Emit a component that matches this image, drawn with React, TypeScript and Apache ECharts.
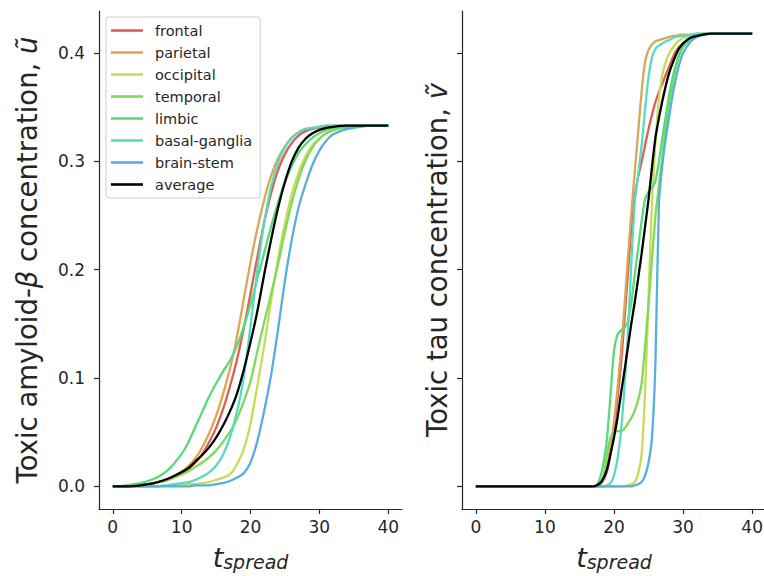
import React, { useEffect, useRef } from "react";
import * as echarts from "echarts";

const regions = ["frontal", "parietal", "occipital", "temporal", "limbic", "basal-ganglia", "brain-stem", "average"];
const colors = ["#db5f57", "#dba757", "#c7db57", "#7fdb57", "#57db77", "#57dbbe", "#57afdb", "#000000"];

const xTicks = [0, 10, 20, 30, 40];
const yTicks = [0, 0.1, 0.2, 0.3, 0.4];

// Left panel: amyloid-beta
const tLeft = [0, 2, 4, 6, 8, 10, 11, 12, 13, 14, 15, 16, 17, 18, 19, 20, 21, 22, 23, 24, 25, 26, 27, 28, 29, 30, 31, 32, 34, 36, 38, 40];
const uFrontal = [0, 0, 0.001, 0.003, 0.006, 0.012, 0.016, 0.022, 0.030, 0.041, 0.054, 0.071, 0.092, 0.116, 0.145, 0.178, 0.212, 0.244, 0.271, 0.292, 0.307, 0.317, 0.324, 0.328, 0.330, 0.331, 0.332, 0.332, 0.333, 0.333, 0.333, 0.333];
const uParietal = [0, 0, 0.001, 0.003, 0.007, 0.014, 0.019, 0.026, 0.036, 0.049, 0.065, 0.085, 0.108, 0.137, 0.172, 0.207, 0.238, 0.265, 0.287, 0.303, 0.314, 0.322, 0.327, 0.330, 0.331, 0.332, 0.333, 0.333, 0.333, 0.333, 0.333, 0.333];
const uOccipital = [0, 0, 0, 0, 0.001, 0.001, 0.002, 0.002, 0.003, 0.004, 0.006, 0.008, 0.011, 0.020, 0.034, 0.058, 0.093, 0.130, 0.172, 0.210, 0.243, 0.270, 0.290, 0.305, 0.315, 0.321, 0.326, 0.329, 0.332, 0.333, 0.333, 0.333];
const uTemporal = [0, 0, 0.001, 0.003, 0.006, 0.011, 0.014, 0.018, 0.022, 0.027, 0.033, 0.041, 0.050, 0.062, 0.078, 0.097, 0.125, 0.152, 0.178, 0.205, 0.235, 0.262, 0.284, 0.301, 0.313, 0.321, 0.326, 0.329, 0.332, 0.333, 0.333, 0.333];
const uLimbic = [0, 0.001, 0.003, 0.007, 0.015, 0.030, 0.041, 0.055, 0.069, 0.083, 0.095, 0.106, 0.116, 0.129, 0.147, 0.168, 0.192, 0.216, 0.240, 0.262, 0.281, 0.296, 0.308, 0.316, 0.322, 0.326, 0.329, 0.331, 0.332, 0.333, 0.333, 0.333];
const uBasal = [0, 0, 0, 0, 0.001, 0.003, 0.004, 0.006, 0.009, 0.013, 0.019, 0.029, 0.045, 0.068, 0.100, 0.148, 0.200, 0.244, 0.277, 0.299, 0.313, 0.322, 0.327, 0.330, 0.331, 0.332, 0.333, 0.333, 0.333, 0.333, 0.333, 0.333];
const uBrainstem = [0, 0, 0, 0, 0, 0, 0, 0.001, 0.001, 0.001, 0.002, 0.003, 0.005, 0.008, 0.012, 0.022, 0.042, 0.070, 0.103, 0.145, 0.190, 0.228, 0.258, 0.279, 0.297, 0.310, 0.319, 0.325, 0.330, 0.332, 0.333, 0.333];
const uAverage = [0, 0, 0.001, 0.003, 0.007, 0.013, 0.017, 0.023, 0.029, 0.036, 0.045, 0.056, 0.069, 0.085, 0.107, 0.133, 0.162, 0.196, 0.228, 0.257, 0.281, 0.300, 0.313, 0.321, 0.326, 0.329, 0.331, 0.332, 0.333, 0.333, 0.333, 0.333];

// Right panel: tau
const tRight = [0, 5, 10, 15, 16, 17, 17.5, 18, 18.5, 19, 19.5, 20, 20.5, 21, 21.5, 22, 22.5, 23, 23.5, 24, 24.5, 25, 25.5, 26, 26.5, 27, 27.5, 28, 28.5, 29, 29.5, 30, 31, 32, 34, 36, 40];
const vFrontal = [0, 0, 0, 0, 0, 0, 0, 0.002, 0.006, 0.014, 0.030, 0.052, 0.080, 0.112, 0.152, 0.196, 0.236, 0.268, 0.286, 0.300, 0.315, 0.330, 0.343, 0.355, 0.364, 0.372, 0.380, 0.388, 0.396, 0.402, 0.406, 0.409, 0.414, 0.416, 0.418, 0.418, 0.418];
const vParietal = [0, 0, 0, 0, 0, 0, 0, 0.002, 0.008, 0.020, 0.038, 0.060, 0.090, 0.125, 0.165, 0.210, 0.252, 0.290, 0.327, 0.365, 0.392, 0.403, 0.408, 0.411, 0.412, 0.413, 0.414, 0.415, 0.416, 0.416, 0.417, 0.417, 0.417, 0.418, 0.418, 0.418, 0.418];
const vOccipital = [0, 0, 0, 0, 0, 0, 0, 0, 0, 0, 0, 0, 0, 0, 0, 0.001, 0.002, 0.004, 0.012, 0.030, 0.088, 0.175, 0.262, 0.318, 0.358, 0.380, 0.392, 0.400, 0.405, 0.409, 0.412, 0.414, 0.416, 0.417, 0.418, 0.418, 0.418];
const vTemporal = [0, 0, 0, 0, 0, 0, 0, 0.002, 0.010, 0.030, 0.045, 0.050, 0.051, 0.051, 0.053, 0.058, 0.063, 0.070, 0.080, 0.095, 0.130, 0.168, 0.210, 0.250, 0.278, 0.305, 0.333, 0.355, 0.373, 0.388, 0.399, 0.406, 0.413, 0.416, 0.418, 0.418, 0.418];
const vLimbic = [0, 0, 0, 0, 0, 0, 0.001, 0.008, 0.022, 0.045, 0.085, 0.125, 0.140, 0.144, 0.146, 0.152, 0.170, 0.195, 0.220, 0.245, 0.265, 0.272, 0.276, 0.282, 0.300, 0.322, 0.342, 0.362, 0.378, 0.390, 0.400, 0.406, 0.413, 0.416, 0.418, 0.418, 0.418];
const vBasal = [0, 0, 0, 0, 0, 0, 0, 0, 0, 0.001, 0.003, 0.010, 0.025, 0.050, 0.090, 0.140, 0.205, 0.262, 0.288, 0.315, 0.348, 0.378, 0.396, 0.404, 0.407, 0.409, 0.411, 0.412, 0.414, 0.415, 0.416, 0.416, 0.417, 0.418, 0.418, 0.418, 0.418];
const vBrainstem = [0, 0, 0, 0, 0, 0, 0, 0, 0, 0, 0, 0, 0, 0, 0, 0, 0, 0.001, 0.002, 0.004, 0.010, 0.022, 0.045, 0.115, 0.262, 0.297, 0.322, 0.342, 0.362, 0.378, 0.391, 0.400, 0.410, 0.415, 0.418, 0.418, 0.418];
const vAverage = [0, 0, 0, 0, 0, 0, 0.001, 0.003, 0.008, 0.016, 0.030, 0.045, 0.063, 0.085, 0.106, 0.128, 0.150, 0.170, 0.192, 0.215, 0.240, 0.265, 0.295, 0.322, 0.340, 0.356, 0.370, 0.382, 0.391, 0.399, 0.405, 0.409, 0.414, 0.416, 0.418, 0.418, 0.418];

const uSeries = [uFrontal, uParietal, uOccipital, uTemporal, uLimbic, uBasal, uBrainstem, uAverage];
const vSeries = [vFrontal, vParietal, vOccipital, vTemporal, vLimbic, vBasal, vBrainstem, vAverage];

const FONT = "DejaVu Sans";
const INK = "#262626";
const LINE_ICON = "path://M0,0 L32,0 L32,2.6 L0,2.6 Z";

function zip(t: number[], v: number[]) {
  return t.map((x, i) => [x, v[i]]);
}

function xAxisFor(grid: number) {
  return {
    type: "value",
    gridIndex: grid,
    min: -2,
    max: 42,
    name: "{t|t}{s|spread}",
    nameLocation: "middle",
    nameGap: 35,
    nameTextStyle: {
      rich: {
        t: { fontSize: 27, fontStyle: "italic", fontFamily: FONT, color: INK },
        s: { fontSize: 19, fontStyle: "italic", fontFamily: FONT, color: INK, padding: [8, 0, 0, 0] },
      },
    },
    axisLine: { onZero: false, lineStyle: { color: INK, width: 1.2 } },
    axisTick: { customValues: xTicks, length: 5, lineStyle: { color: INK, width: 1.2 } },
    axisLabel: { customValues: xTicks, fontSize: 17, color: INK, fontFamily: FONT, margin: 9 },
    splitLine: { show: false },
  };
}

function yAxisFor(grid: number, name: string, rich: any, gap: number, showLabels: boolean) {
  return {
    type: "value",
    gridIndex: grid,
    min: -0.0209,
    max: 0.4389,
    name,
    nameLocation: "middle",
    nameGap: gap,
    nameTextStyle: { fontSize: 27.5, fontFamily: FONT, color: INK, rich },
    axisLine: { show: true, onZero: false, lineStyle: { color: INK, width: 1.2 } },
    axisTick: { show: true, customValues: yTicks, length: 5, lineStyle: { color: INK, width: 1.2 } },
    axisLabel: {
      show: showLabels,
      customValues: yTicks,
      fontSize: 17,
      color: INK,
      fontFamily: FONT,
      margin: 14,
      formatter: (v: number) => v.toFixed(1),
    },
    splitLine: { show: false },
  };
}

export default function App() {
  const ref = useRef<HTMLDivElement>(null);
  useEffect(() => {
    const chart = echarts.init(ref.current!, null, { renderer: "svg" });
    const richI = { i: { fontSize: 27.5, fontStyle: "italic", fontFamily: FONT, color: INK } };
    const series: any[] = [];
    regions.forEach((name, k) => {
      series.push({
        type: "line",
        name,
        xAxisIndex: 0,
        yAxisIndex: 0,
        data: zip(tLeft, uSeries[k]),
        showSymbol: false,
        symbol: "none",
        smooth: 0.25,
        lineStyle: { color: colors[k], width: 2.3 },
        itemStyle: { color: colors[k] },
        z: 2 + k,
      });
      series.push({
        type: "line",
        name,
        xAxisIndex: 1,
        yAxisIndex: 1,
        data: zip(tRight, vSeries[k]),
        showSymbol: false,
        symbol: "none",
        smooth: 0.2,
        lineStyle: { color: colors[k], width: 2.3 },
        itemStyle: { color: colors[k] },
        z: 2 + k,
      });
    });
    chart.setOption({
      animation: false,
      textStyle: { fontFamily: FONT },
      grid: [
        { left: 99, top: 11, width: 303, height: 498, outerBoundsMode: "none", containLabel: false },
        { left: 462, top: 11, width: 304, height: 498, outerBoundsMode: "none", containLabel: false },
      ],
      xAxis: [xAxisFor(0), xAxisFor(1)],
      yAxis: [
        yAxisFor(0, "Toxic amyloid-{i|β} concentration, {i|ũ}", richI, 58, true),
        yAxisFor(1, "Toxic tau concentration, {i|ṽ}", richI, 11, false),
      ],
      legend: {
        data: regions.map((name) => ({ name, icon: LINE_ICON })),
        orient: "vertical",
        left: 106,
        top: 17,
        itemWidth: 32,
        itemHeight: 15,
        itemGap: 7,
        symbolKeepAspect: true,
        padding: [6, 8, 6, 5],
        backgroundColor: "rgba(255,255,255,0.8)",
        borderColor: "#cccccc",
        borderWidth: 1,
        borderRadius: 3,
        textStyle: { fontSize: 14.5, color: INK, fontFamily: FONT, padding: [0, 0, 0, 7] },
      },
      series,
    });
    return () => chart.dispose();
  }, []);
  return <div ref={ref} style={{ position: "absolute", left: 0, top: 0, width: 764, height: 576 }} />;
}
